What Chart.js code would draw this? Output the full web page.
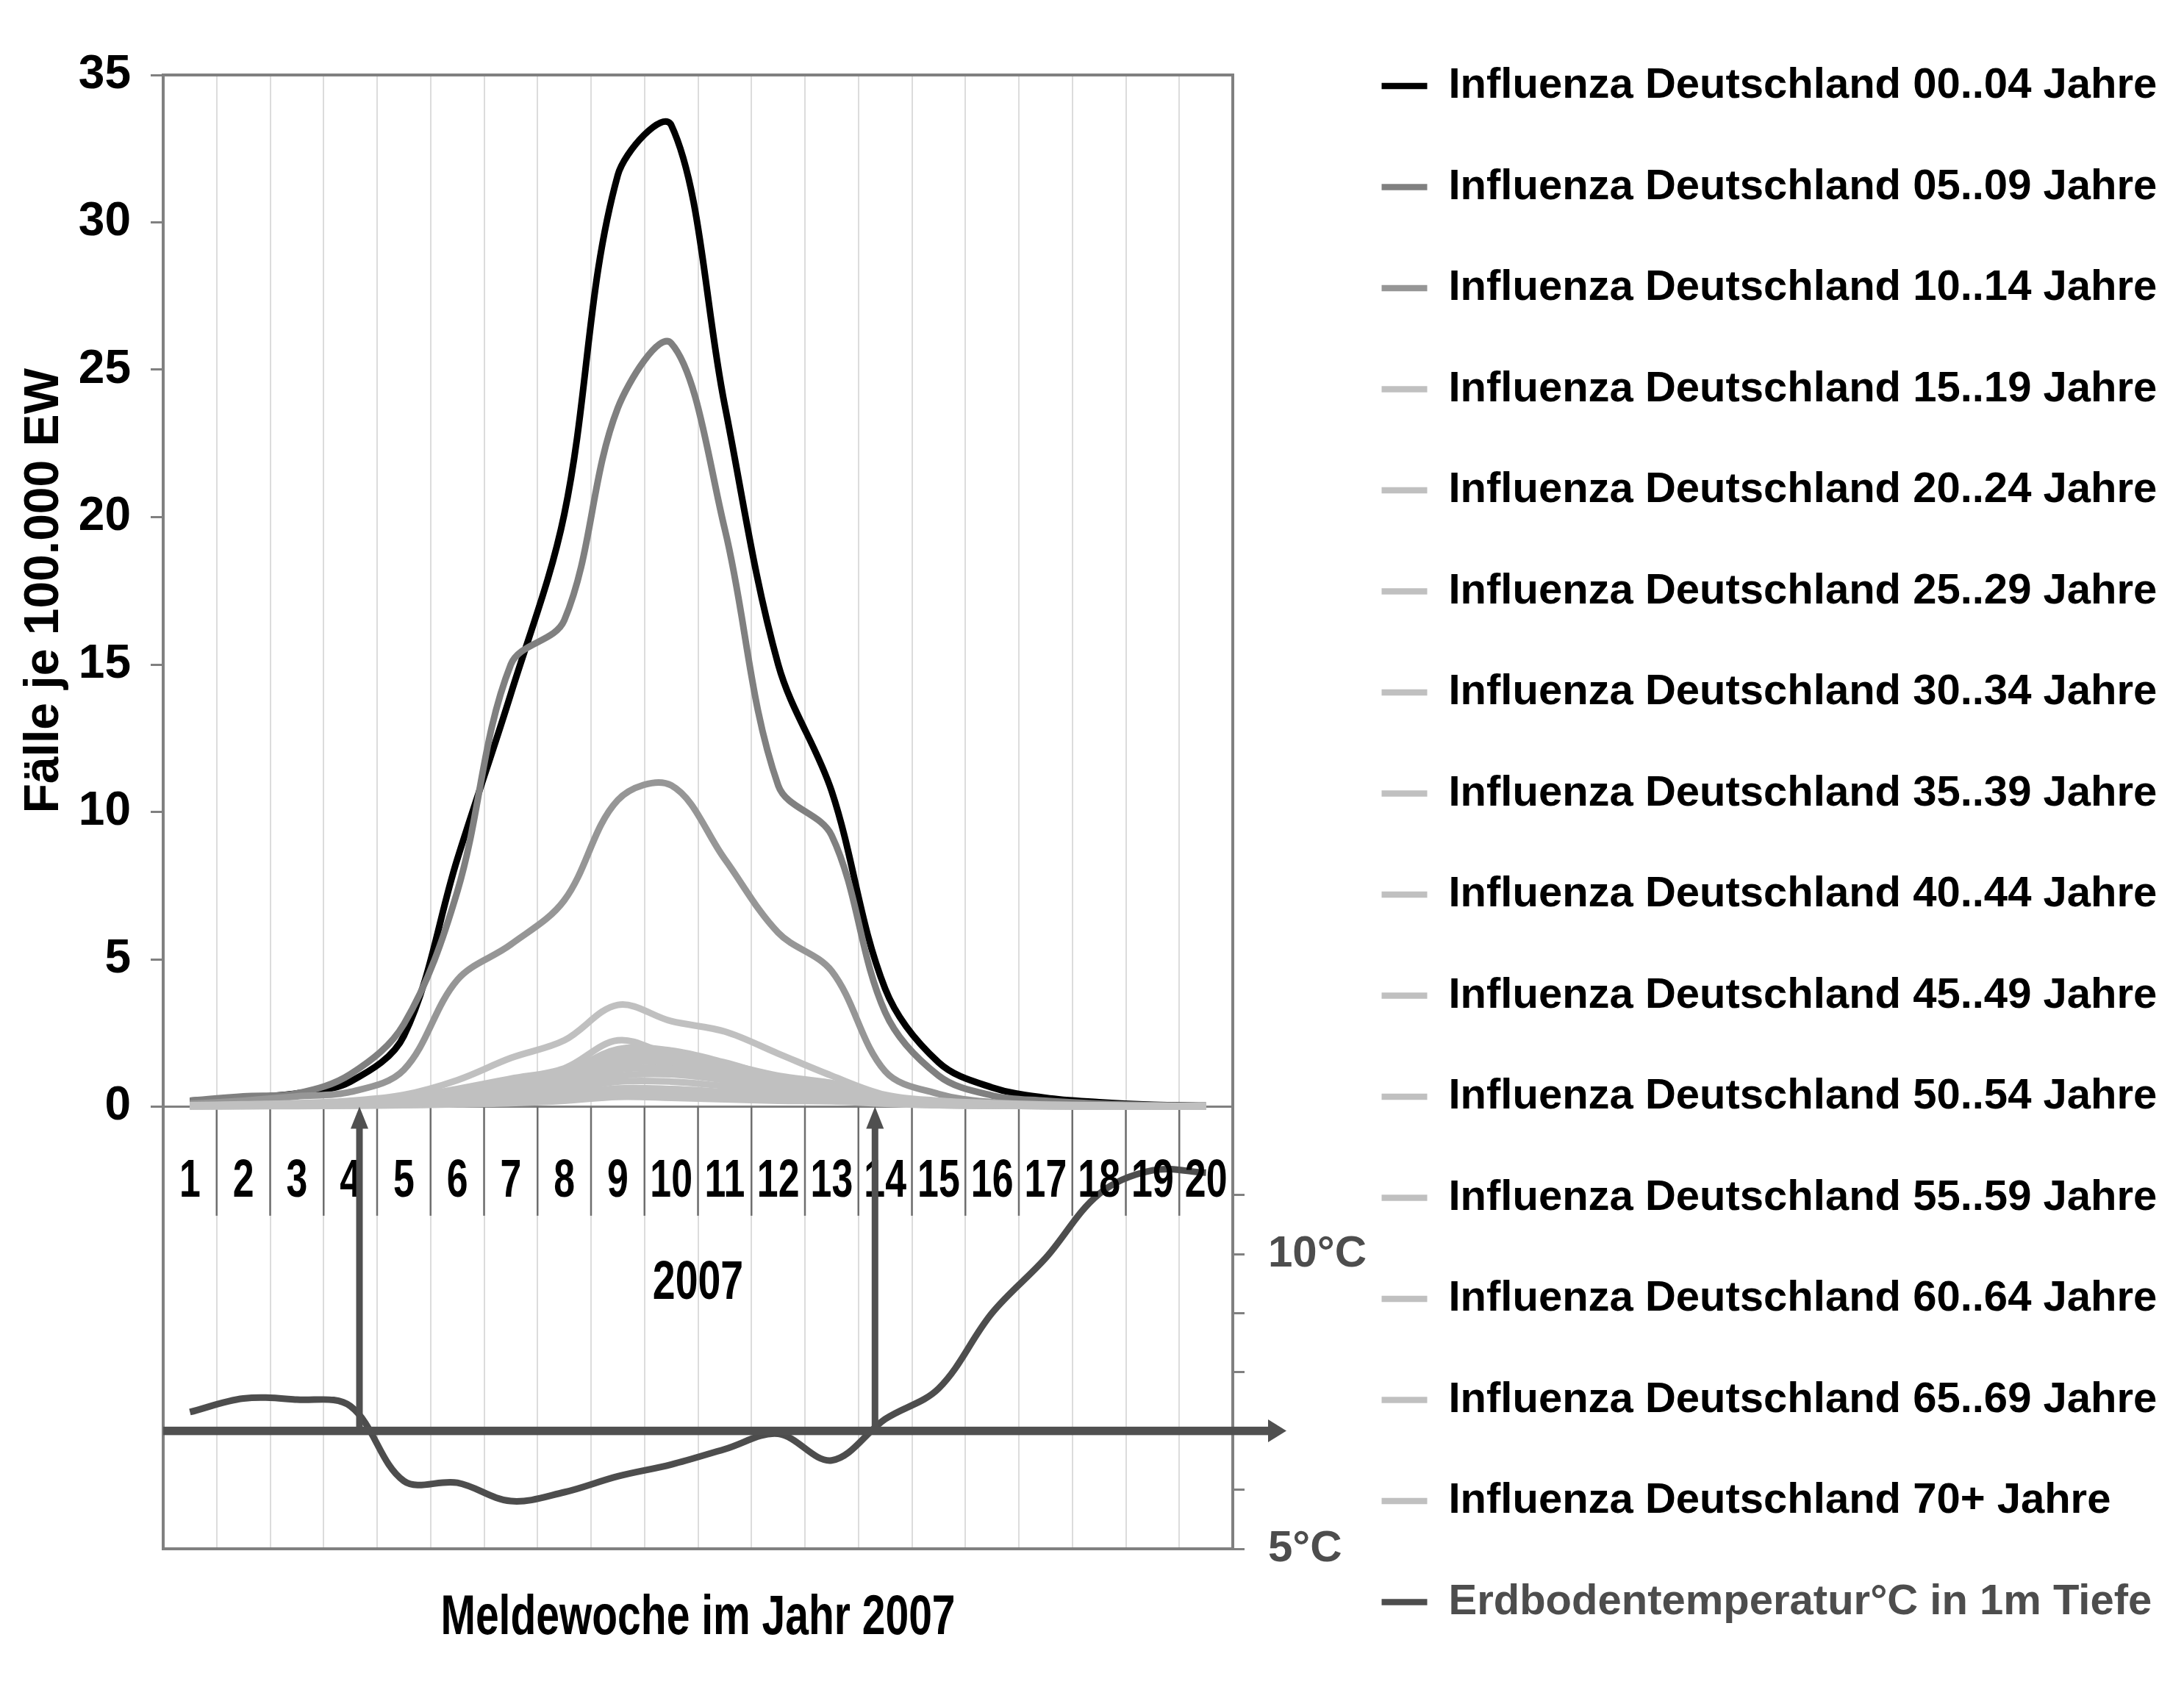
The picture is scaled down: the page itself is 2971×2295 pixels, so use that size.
<!DOCTYPE html>
<html>
<head>
<meta charset="utf-8">
<script src="https://cdn.jsdelivr.net/npm/chart.js@4/dist/chart.umd.min.js"></script>
<style>
  html, body { margin: 0; padding: 0; background: #ffffff; }
  #wrap { width: 2971px; height: 2295px; }
</style>
</head>
<body>
<div id="wrap"><canvas id="c" width="2971" height="2295"></canvas></div>
<script>
// ---------------- data ----------------
const weeks = ['1','2','3','4','5','6','7','8','9','10','11','12','13','14','15','16','17','18','19','20'];

const flu00_04 = [0.2, 0.3, 0.45, 0.85, 2.4, 8.4, 14.0, 20.1, 31.6, 33.3, 23.8, 15.0, 10.7, 4.0, 1.5, 0.65, 0.3, 0.15, 0.06, 0.03];
const flu05_09 = [0.2, 0.35, 0.45, 1.1, 2.8, 7.3, 15.0, 16.5, 23.7, 25.9, 19.6, 10.9, 9.2, 3.2, 1.05, 0.38, 0.2, 0.1, 0.05, 0.03];
const flu10_14 = [0.1, 0.2, 0.35, 0.5, 1.25, 4.3, 5.5, 7.0, 10.4, 10.9, 8.4, 5.9, 4.6, 1.2, 0.43, 0.15, 0.08, 0.05, 0.03, 0.02];
const flu15_19 = [0.05, 0.08, 0.12, 0.2, 0.4, 0.9, 1.65, 2.25, 3.45, 2.9, 2.55, 1.8, 1.05, 0.4, 0.2, 0.12, 0.07, 0.05, 0.03, 0.02];
const flu20_24 = [0.04, 0.06, 0.1, 0.15, 0.3, 0.6, 0.95, 1.3, 2.25, 1.75, 1.45, 1.05, 0.8, 0.35, 0.15, 0.08, 0.05, 0.03, 0.02, 0.01];
const flu25_29 = [0.04, 0.05, 0.08, 0.12, 0.25, 0.5, 0.8, 1.15, 1.95, 1.9, 1.5, 1.0, 0.75, 0.3, 0.13, 0.07, 0.04, 0.03, 0.02, 0.01];
const flu30_34 = [0.03, 0.05, 0.07, 0.11, 0.22, 0.45, 0.75, 1.1, 1.8, 1.85, 1.45, 0.95, 0.8, 0.3, 0.12, 0.06, 0.04, 0.02, 0.01, 0.01];
const flu35_39 = [0.03, 0.04, 0.06, 0.1, 0.2, 0.4, 0.7, 1.0, 1.6, 1.65, 1.3, 0.9, 0.7, 0.28, 0.11, 0.06, 0.03, 0.02, 0.01, 0.01];
const flu40_44 = [0.03, 0.04, 0.06, 0.09, 0.18, 0.35, 0.6, 0.9, 1.45, 1.5, 1.2, 0.85, 0.6, 0.25, 0.1, 0.05, 0.03, 0.02, 0.01, 0.01];
const flu45_49 = [0.02, 0.03, 0.05, 0.08, 0.15, 0.3, 0.55, 0.8, 1.25, 1.3, 1.05, 0.75, 0.55, 0.22, 0.09, 0.05, 0.03, 0.02, 0.01, 0.01];
const flu50_54 = [0.02, 0.03, 0.05, 0.07, 0.13, 0.25, 0.45, 0.7, 1.05, 1.1, 0.9, 0.65, 0.5, 0.2, 0.08, 0.04, 0.02, 0.01, 0.01, 0.01];
const flu55_59 = [0.02, 0.03, 0.04, 0.06, 0.1, 0.2, 0.35, 0.55, 0.85, 0.85, 0.7, 0.55, 0.45, 0.18, 0.07, 0.04, 0.02, 0.01, 0.01, 0.01];
const flu60_64 = [0.01, 0.02, 0.03, 0.05, 0.08, 0.15, 0.25, 0.4, 0.62, 0.6, 0.5, 0.4, 0.35, 0.15, 0.06, 0.03, 0.02, 0.01, 0.01, 0.01];
const flu65_69 = [0.01, 0.02, 0.03, 0.04, 0.06, 0.1, 0.18, 0.3, 0.45, 0.42, 0.35, 0.3, 0.25, 0.12, 0.05, 0.03, 0.02, 0.01, 0.01, 0.01];
const flu70plus = [0.01, 0.02, 0.02, 0.03, 0.05, 0.08, 0.12, 0.2, 0.33, 0.3, 0.25, 0.2, 0.18, 0.1, 0.05, 0.03, 0.02, 0.01, 0.01, 0.01];

const soilTemp = [7.32, 7.55, 7.53, 7.42, 6.15, 6.12, 5.81, 5.96, 6.23, 6.43, 6.69, 6.95, 6.50, 7.20, 7.72, 9.00, 9.93, 11.02, 11.42, 11.38];

const fluTicks = [0, 5, 10, 15, 20, 25, 30, 35];
const tempTickLabels = { 5: '5°C', 10: '10°C' };
const thresholdTemp = 7;             // °C, horizontal arrow
const crossingWeeks = [4.17, 13.81]; // weeks where soil temperature crosses 7 °C
const yearLabel = '2007';
const xTitle = 'Meldewoche im Jahr 2007';
const yTitle = 'Fälle je 100.000 EW';

// ---------------- styles ----------------
const FONT = '"Liberation Sans", Arial, sans-serif';
const AXIS_GRAY = '#808080';
const TEMP_COLOR = '#4d4d4d';
const LIGHT = '#c0c0c0';

const series = [
  ['Influenza Deutschland 00..04 Jahre', flu00_04, '#000000'],
  ['Influenza Deutschland 05..09 Jahre', flu05_09, '#808080'],
  ['Influenza Deutschland 10..14 Jahre', flu10_14, '#969696'],
  ['Influenza Deutschland 15..19 Jahre', flu15_19, LIGHT],
  ['Influenza Deutschland 20..24 Jahre', flu20_24, LIGHT],
  ['Influenza Deutschland 25..29 Jahre', flu25_29, LIGHT],
  ['Influenza Deutschland 30..34 Jahre', flu30_34, LIGHT],
  ['Influenza Deutschland 35..39 Jahre', flu35_39, LIGHT],
  ['Influenza Deutschland 40..44 Jahre', flu40_44, LIGHT],
  ['Influenza Deutschland 45..49 Jahre', flu45_49, LIGHT],
  ['Influenza Deutschland 50..54 Jahre', flu50_54, LIGHT],
  ['Influenza Deutschland 55..59 Jahre', flu55_59, LIGHT],
  ['Influenza Deutschland 60..64 Jahre', flu60_64, LIGHT],
  ['Influenza Deutschland 65..69 Jahre', flu65_69, LIGHT],
  ['Influenza Deutschland 70+ Jahre', flu70plus, LIGHT]
];
const tempLabel = 'Erdbodentemperatur°C in 1m Tiefe';

const datasets = series.map((s, i) => ({
  label: s[0], data: s[1], borderColor: s[2], backgroundColor: s[2],
  borderWidth: 9, pointRadius: 0, pointHoverRadius: 0, tension: 0.35,
  fill: false, yAxisID: 'y', order: 100 - i
}));
datasets.push({
  label: tempLabel, data: soilTemp,
  borderColor: TEMP_COLOR, backgroundColor: TEMP_COLOR,
  borderWidth: 9, pointRadius: 0, pointHoverRadius: 0, tension: 0.35,
  fill: false, yAxisID: 'y1', order: 0
});

// ---------------- layout helpers (text measurement) ----------------
const mctx = document.createElement('canvas').getContext('2d');
function textW(font, s) { mctx.font = font; return mctx.measureText(s).width; }

const LEG_SIZE = 58, LEG_PAD = 79.5, LEG_LINE = 62;
const TOP_PAD = 8.5;
const PLOT_TOP = 102;
const LEGEND_LEFT = 1800;
const PLOT_RIGHT = 1677;
const legFontStr = 'bold ' + LEG_SIZE + 'px ' + FONT;
let maxLegW = 0;
datasets.forEach(d => { maxLegW = Math.max(maxLegW, textW(legFontStr, d.label)); });
const legendWidth = LEG_PAD + LEG_LINE + LEG_SIZE / 2 + maxLegW + 10;
const rightPad = Math.max(0, 2971 - LEGEND_LEFT - legendWidth);

const Y1_SIZE = 60;
const y1Widest = textW('bold ' + Y1_SIZE + 'px ' + FONT, '10°C');

// ---------------- decorations plugin ----------------
function arrowUp(ctx, x, yBottom, yTip, shaft, headW, headL, color) {
  ctx.fillStyle = color;
  ctx.fillRect(x - shaft / 2, yTip + headL - 1, shaft, yBottom - (yTip + headL - 1));
  ctx.beginPath();
  ctx.moveTo(x, yTip);
  ctx.lineTo(x - headW / 2, yTip + headL);
  ctx.lineTo(x + headW / 2, yTip + headL);
  ctx.closePath();
  ctx.fill();
}
function arrowRight(ctx, xStart, xTip, y, shaft, headH, headL, color) {
  ctx.fillStyle = color;
  ctx.fillRect(xStart, y - shaft / 2, xTip - headL - xStart + 1, shaft);
  ctx.beginPath();
  ctx.moveTo(xTip, y);
  ctx.lineTo(xTip - headL, y - headH / 2);
  ctx.lineTo(xTip - headL, y + headH / 2);
  ctx.closePath();
  ctx.fill();
}
function squeezedText(ctx, text, x, y, font, sx) {
  ctx.save();
  ctx.translate(x, y);
  ctx.scale(sx, 1);
  ctx.font = font;
  ctx.fillText(text, 0, 0);
  ctx.restore();
}

const decor = {
  id: 'decor',
  beforeDatasetsDraw(chart) {
    const { ctx, scales: { x, y } } = chart;
    ctx.save();
    ctx.strokeStyle = '#6e6e6e';
    ctx.lineWidth = 2.5;
    const yTop = y.getPixelForValue(0);
    const yBot = y.getPixelForValue(-3.7);
    for (let i = 1; i < weeks.length; i++) {
      const px = (x.getPixelForValue(i - 1) + x.getPixelForValue(i)) / 2;
      ctx.beginPath();
      ctx.moveTo(px, yTop);
      ctx.lineTo(px, yBot);
      ctx.stroke();
    }
    ctx.restore();
  },
  afterDatasetsDraw(chart) {
    const { ctx, chartArea: a, scales: { x, y, y1 } } = chart;
    ctx.save();
    ctx.fillStyle = '#000';
    ctx.textAlign = 'center';
    ctx.textBaseline = 'middle';
    // week numbers inside the plot
    const yw = y.getPixelForValue(-2.55);
    weeks.forEach((w, i) => {
      squeezedText(ctx, w, x.getPixelForValue(i), yw, 'bold 72px ' + FONT, 0.72);
    });
    // year
    squeezedText(ctx, yearLabel, (a.left + a.right) / 2, y.getPixelForValue(-6.0), 'bold 74px ' + FONT, 0.75);
    // x axis title (below plot)
    squeezedText(ctx, xTitle, (a.left + a.right) / 2, a.bottom + 95, 'bold 76px ' + FONT, 0.75);
    // y axis title
    ctx.save();
    ctx.translate(61, y.getPixelForValue(17.5));
    ctx.rotate(-Math.PI / 2);
    ctx.font = 'bold 66px ' + FONT;
    ctx.fillText(yTitle, 0, 0);
    ctx.restore();
    // arrows
    const yT = y1.getPixelForValue(thresholdTemp);
    const y0 = y.getPixelForValue(0);
    crossingWeeks.forEach(w => {
      arrowUp(ctx, x.getPixelForValue(w - 1), yT, y0, 9, 24, 30, '#505050');
    });
    arrowRight(ctx, a.left, a.right + 73, yT, 11.5, 31, 25, '#505050');
    ctx.restore();
  }
};

function noPad(s) { s.paddingTop = 0; s.paddingBottom = 0; }

// ---------------- chart ----------------
new Chart(document.getElementById('c'), {
  type: 'line',
  data: { labels: weeks, datasets },
  plugins: [decor],
  options: {
    responsive: false,
    devicePixelRatio: 1,
    animation: false,
    events: [],
    font: { family: FONT },
    layout: { padding: { top: TOP_PAD, right: rightPad, bottom: 0, left: 0 } },
    scales: {
      x: {
        type: 'category', position: 'bottom', offset: true,
        grid: { offset: true, color: '#dcdcdc', lineWidth: 2, drawTicks: false },
        border: { display: true, color: AXIS_GRAY, width: 4 },
        ticks: { display: false },
        afterFit: s => { s.height = 188; s.paddingLeft = 0; s.paddingRight = 0; }
      },
      x2: {
        type: 'category', position: 'top', offset: true,
        grid: { display: false },
        border: { display: true, color: AXIS_GRAY, width: 4 },
        ticks: { display: false },
        afterFit: s => { s.height = PLOT_TOP - TOP_PAD; s.paddingLeft = 0; s.paddingRight = 0; }
      },
      y: {
        position: 'left', min: -15, max: 35,
        afterBuildTicks: s => { s.ticks = [-15, -10, -5].concat(fluTicks).map(v => ({ value: v })); },
        grid: {
          drawOnChartArea: true, lineWidth: 3, tickLength: 17,
          color: c => (c.tick && c.tick.value === 0) ? AXIS_GRAY : 'rgba(0,0,0,0)',
          tickColor: c => (c.tick && c.tick.value >= 0) ? AXIS_GRAY : 'rgba(0,0,0,0)'
        },
        border: { display: true, color: AXIS_GRAY, width: 4 },
        ticks: {
          autoSkip: false, padding: 27, color: '#000',
          font: { family: FONT, weight: 'bold', size: 64 },
          callback: v => (fluTicks.indexOf(v) >= 0 ? String(v) : '')
        },
        afterFit: s => { s.width = 222; noPad(s); }
      },
      y1: {
        position: 'right', min: 5, max: 30,
        ticks: {
          stepSize: 1, autoSkip: false, color: TEMP_COLOR,
          mirror: true, crossAlign: 'far', padding: 48 + y1Widest,
          font: { family: FONT, weight: 'bold', size: Y1_SIZE },
          callback: v => (tempTickLabels[v] !== undefined ? tempTickLabels[v] : '')
        },
        grid: {
          drawOnChartArea: false, lineWidth: 3, tickLength: 16,
          tickColor: c => (c.tick && c.tick.value <= 11) ? AXIS_GRAY : 'rgba(0,0,0,0)'
        },
        border: { display: true, color: AXIS_GRAY, width: 4 },
        afterFit: s => { s.width = LEGEND_LEFT - PLOT_RIGHT; noPad(s); }
      }
    },
    plugins: {
      tooltip: { enabled: false },
      title: { display: false },
      legend: {
        display: true, position: 'right', align: 'start',
        maxWidth: legendWidth + 40,
        labels: {
          usePointStyle: true, pointStyle: 'line', pointStyleWidth: LEG_LINE,
          padding: LEG_PAD, color: '#000',
          font: { family: FONT, weight: 'bold', size: LEG_SIZE },
          sort: (a, b) => a.datasetIndex - b.datasetIndex,
          generateLabels: chart => {
            const items = Chart.defaults.plugins.legend.labels.generateLabels(chart);
            items.forEach(it => {
              const ds = chart.data.datasets[it.datasetIndex];
              it.pointStyle = 'line';
              it.lineWidth = 8.5;
              it.strokeStyle = ds.borderColor;
              it.fontColor = it.datasetIndex === series.length ? TEMP_COLOR : '#000';
            });
            return items;
          }
        }
      }
    }
  }
});
</script>
</body>
</html>
